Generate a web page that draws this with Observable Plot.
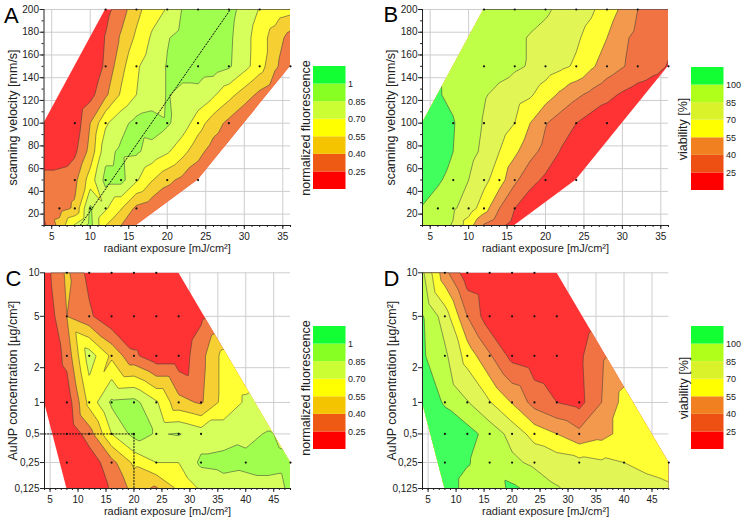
<!DOCTYPE html>
<html><head><meta charset="utf-8">
<script src="https://cdn.jsdelivr.net/npm/d3@7"></script>
<script src="https://cdn.jsdelivr.net/npm/@observablehq/plot@0.6"></script>
<style>
body{margin:0;background:#fff;}
#root{position:relative;width:743px;height:526px;overflow:hidden;font-family:"Liberation Sans",Arial,sans-serif;}
#root svg{position:absolute;overflow:visible;}
</style></head><body><div id="root"></div>
<script>
// ---------- data ----------
const xAB = [4,6,8,10,12,14,16,18,20,22,24,26,28,30,32,34,36];
const yAB = [10,25,50,75,100,125,150,175,200];
const fluorA = [
 [0.22,0.45,0.72,0.9,0.55,0.4,0.3,0.25,0.2,0.2,0.2,0.2,0.2,0.2,0.2,0.2,0.2],
 [0.3,0.34,0.42,0.88,0.72,0.56,0.36,0.3,0.25,0.2,0.2,0.2,0.2,0.2,0.2,0.2,0.2],
 [0.33,0.33,0.36,0.62,0.9,0.9,0.72,0.56,0.44,0.36,0.3,0.25,0.2,0.15,0.1,0.1,0.1],
 [0.1,0.13,0.22,0.45,0.8,0.88,0.87,0.8,0.72,0.6,0.45,0.33,0.26,0.2,0.15,0.1,0.1],
 [0.05,0.08,0.15,0.4,0.68,0.8,0.9,0.92,0.87,0.78,0.62,0.47,0.36,0.25,0.2,0.15,0.1],
 [0.02,0.05,0.1,0.2,0.37,0.57,0.7,0.76,0.86,0.8,0.8,0.72,0.6,0.48,0.36,0.28,0.2],
 [0.02,0.02,0.05,0.12,0.28,0.5,0.68,0.78,0.86,0.92,0.93,0.92,0.87,0.75,0.62,0.42,0.32],
 [0.02,0.03,0.05,0.12,0.26,0.42,0.58,0.72,0.84,0.9,0.93,0.93,0.88,0.76,0.62,0.48,0.34],
 [0.05,0.05,0.08,0.12,0.2,0.33,0.5,0.64,0.71,0.86,0.92,0.93,0.9,0.8,0.69,0.64,0.6]
];
const viabB = [
 [95,90,84,62,38,28,20,10,10,10,10,10,10,10,10,10,10],
 [99,93,87,78,62,40,25,15,10,10,10,10,10,10,10,10,10],
 [108,102,95,85,74,62,43,30,22,16,12,10,10,10,10,10,10],
 [112,108,100,90,82,70,58,45,35,24,18,14,10,10,10,10,10],
 [110,106,101,92,84,78,70,55,41,32,25,18,15,12,10,10,10],
 [106,101,97,92,86,82,77,72,62,52,43,36,29,23,18,15,12],
 [100,100,97,95,92,89,87,84,78,73,68,57,48,41,35,30,24],
 [97,97,97,95,93,90,88,84,81,77,72,65,55,43,36,32,28],
 [95,95,95,95,95,94,92,90,87,82,77,72,63,52,40,35,30]
];
const xCD = [4,8,12,16,20,24,28,32,36,40,44,48];
const yCD = [0.125,0.25,0.5,1,2.5,5,10];
const fluorC = [
 [0.02,0.05,0.12,0.27,0.45,0.38,0.58,0.72,0.78,0.8,0.82,0.86],
 [0.02,0.05,0.15,0.35,0.58,0.7,0.7,0.88,0.9,0.88,0.88,0.87],
 [0.05,0.1,0.33,0.7,0.9,0.84,0.86,0.78,0.78,0.82,0.86,0.82],
 [0.05,0.15,0.6,0.88,0.9,0.72,0.45,0.38,0.6,0.72,0.75,0.75],
 [0.08,0.3,0.78,0.52,0.28,0.15,0.15,0.35,0.6,0.6,0.6,0.6],
 [0.12,0.4,0.28,0.12,0.08,0.08,0.1,0.22,0.3,0.35,0.35,0.35],
 [0.18,0.43,0.2,0.12,0.1,0.1,0.15,0.25,0.3,0.35,0.4,0.4]
];
const viabD = [
 [115,108,95,92,103,95,86,80,78,76,74,72],
 [115,108,101,94,88,82,78,75,72,70,67,64],
 [115,112,106,94,80,64,55,44,50,60,60,58],
 [112,98,86,71,54,34,25,20,40,60,62,60],
 [102,88,64,42,20,15,12,22,38,45,50,50],
 [101,78,40,15,12,10,10,15,25,30,35,40],
 [88,45,15,10,8,8,10,20,25,30,35,40]
];
const hullAB = [[4,10],[4,100],[12,200],[36,200],[36,150],[24,50],[16,10]];
const hullCD = [[4,10],[4,1],[8,0.125],[48,0.125],[48,0.25],[28,10]];
const dotsAB = [[6,25],[8,25],[10,25],[12,25],[16,25],[8,50],[12,50],[14,50],[16,50],[20,50],[24,50],
 [8,100],[12,100],[16,100],[20,100],[24,100],[28,100],[12,150],[16,150],[20,150],[24,150],[28,150],[32,150],[36,150],
 [12,200],[16,200],[20,200],[24,200],[28,200],[32,200]];
const dotsCD = [[8,10],[12,10],[16,10],[20,10],[24,10],
 [8,5],[12,5],[16,5],[20,5],[24,5],[28,5],[8,2.5],[12,2.5],[16,2.5],[20,2.5],[24,2.5],[28,2.5],
 [8,1],[12,1],[16,1],[20,1],[24,1],[28,1],[32,1],[8,0.5],[12,0.5],[16,0.5],[20,0.5],[24,0.5],[28,0.5],[32,0.5],
 [8,0.25],[16,0.25],[20,0.25],[24,0.25],[32,0.25],[40,0.25],[48,0.25]];
const dottedA = [[[8.7,10],[28.2,200]]];
const dottedC = [[[4,0.5],[20,0.5]],[[20,0.5],[20,0.125]]];
const fluorThresholds = [0.25,0.40,0.55,0.70,0.85,1];
const viabThresholds = [25,40,55,70,85,100];
const fluorLabels = ["0.25","0.40","0.55","0.70","0.85","1"];
const viabLabels = ["25","40","55","70","85","100"];
const fluorFill = ["#ff3333","#f17b43","#f6d033","#ffff33","#d6ff5c","#a0ff4e","#41ff5c"];
const viabFill = ["#ff3333","#f17343","#f3994d","#ffff33","#e1f555","#c0ff48","#41ff5c"];
const fluorLegend = ["#ff0000","#ee5a14","#f4c400","#ffff00","#ccff33","#88ff22","#11ff33"];
const viabLegend = ["#ff0000","#ee5014","#f08020","#ffff00","#daf22a","#b0ff1a","#11ff33"];
const xTicksAB = [5,10,15,20,25,30,35];
const yTicksAB = [20,40,60,80,100,120,140,160,180,200];
const xTicksCD = [5,10,15,20,25,30,35,40,45];
const yTicksCD = [0.125,0.25,0.5,1,2,5,10];
const xTitle = "radiant exposure [mJ/cm²]";

// ---------- drawing ----------
const root = document.getElementById("root");
const FONT = "Liberation Sans, Arial, sans-serif";
const toPoints = (xs, ys, rows) => rows.flatMap((row, j) => row.map((v, i) => ({x: xs[i], y: ys[j], v})));

function panel(c) {
  const marks = [
    Plot.gridX(c.xTicks, {stroke: "#cdcdcd", strokeOpacity: 1}),
    Plot.gridY(c.yTicks, {stroke: "#cdcdcd", strokeOpacity: 1}),
    Plot.frame({fill: c.fills[0], stroke: "none"}),
    Plot.contour(toPoints(c.xs, c.ys, c.rows), {x: "x", y: "y", fill: "v", thresholds: c.thresholds,
      interpolate: "barycentric", pixelSize: 1, stroke: "#3a3a3a", strokeWidth: 0.6, strokeOpacity: 0.9}),
    Plot.ruleX([c.x.domain[0]], {stroke: "#222"}),
    Plot.ruleY([c.y.domain[0]], {stroke: "#222"}),
    Plot.axisX({ticks: c.xMinor, tickSize: 2, tickFormat: () => "", color: "#222", label: null}),
    Plot.axisX({ticks: c.xTicks, tickSize: 4, tickPadding: 3, fontSize: 10, color: "#222", label: null})
  ];
  if (c.yMinor) marks.push(Plot.axisY({ticks: c.yMinor, tickSize: 2, tickFormat: () => "", color: "#222", label: null}));
  marks.push(Plot.axisY({ticks: c.yTicks, tickSize: 4, tickPadding: 1, fontSize: 10, color: "#222", label: null, tickFormat: c.yFormat}));
  for (const seg of c.dotted) marks.push(Plot.line(seg, {x: d => d[0], y: d => d[1], stroke: "#111", strokeWidth: 1, strokeDasharray: "1.3,1.8"}));
  marks.push(Plot.dot(c.dots, {x: d => d[0], y: d => d[1], r: 1.1, fill: "#111", stroke: "none"}));
  marks.push(Plot.text([xTitle], {frameAnchor: "bottom", textAnchor: "middle", dy: 26, text: d => d, fontSize: 11, fill: "#222"}));
  marks.push(Plot.text([c.yLabel], {frameAnchor: "left", textAnchor: "middle", dx: c.ydx, rotate: -90, text: d => d, fontSize: 12.5, fill: "#222"}));
  marks.push(Plot.text([c.letter], {frameAnchor: "top-left", textAnchor: "start", lineAnchor: "top", dx: c.ldx, dy: c.ldy, text: d => d, fontSize: 22, fill: "#000"}));
  const chart = Plot.plot({
    width: 372, height: 263, marginLeft: c.ml, marginRight: c.mr, marginTop: c.mt, marginBottom: c.mb,
    style: {fontFamily: FONT, background: "transparent", overflow: "visible"},
    x: c.x, y: c.y,
    color: {type: "threshold", domain: c.thresholds, range: c.fills},
    marks
  });
  // clip the filled contour area to the convex hull of the measured region
  const sx = chart.scale("x"), sy = chart.scale("y");
  const ns = "http://www.w3.org/2000/svg";
  const defs = document.createElementNS(ns, "defs");
  const cp = document.createElementNS(ns, "clipPath");
  cp.setAttribute("id", "hull" + c.letter);
  const poly = document.createElementNS(ns, "polygon");
  poly.setAttribute("points", c.hull.map(([x, y]) => sx.apply(x) + "," + sy.apply(y)).join(" "));
  cp.appendChild(poly); defs.appendChild(cp); chart.insertBefore(defs, chart.firstChild);
  chart.querySelectorAll('[aria-label="frame"], [aria-label="contour"]').forEach(el => {
    const g = document.createElementNS(ns, "g");
    g.setAttribute("clip-path", `url(#hull${c.letter})`);
    el.parentNode.insertBefore(g, el); g.appendChild(el);
  });
  chart.style.left = c.left + "px"; chart.style.top = c.top + "px";
  root.appendChild(chart);
}

function legend(c) {
  const bands = c.colors.map((col, i) => ({i, col}));
  const chart = Plot.plot({
    width: 75, height: 135, marginLeft: 14, marginRight: 28.5, marginTop: 6, marginBottom: 6,
    style: {fontFamily: FONT, background: "transparent", overflow: "visible"},
    x: {domain: [0, 1], axis: null}, y: {domain: [0, 7], axis: null}, color: {type: "identity"},
    marks: [
      Plot.rect(bands, {x1: 0, x2: 1, y1: d => d.i, y2: d => d.i + 1, fill: d => d.col}),
      Plot.text(c.labels, {x: 1, y: (d, i) => i + 1, text: d => d, textAnchor: "start", dx: 2, fontSize: 9, fill: "#222"}),
      Plot.text([c.title], {frameAnchor: "left", textAnchor: "middle", dx: c.tdx, rotate: -90, text: d => d, fontSize: 12.5, fill: "#222"})
    ]
  });
  chart.style.left = c.left + "px"; chart.style.top = c.top + "px";
  root.appendChild(chart);
}

const commonAB = {xs: xAB, ys: yAB, x: {domain: [4, 36], label: null}, y: {domain: [10, 200], label: null},
  xTicks: xTicksAB, xMinor: d3.range(4, 37, 1), yTicks: yTicksAB, yMinor: d3.range(10, 201, 10),
  yFormat: d => String(d), hull: hullAB, dots: dotsAB, yLabel: "scanning velocity [mm/s]", mt: 9, mb: 38};
const commonCD = {xs: xCD, ys: yCD, x: {domain: [4, 48], label: null},
  y: {type: "pow", exponent: 0.14, domain: [0.125, 10], label: null},
  xTicks: xTicksCD, xMinor: d3.range(4, 49, 1), yTicks: yTicksCD, yMinor: null,
  yFormat: d => String(d).replace(".", ","), hull: hullCD, dots: dotsCD, yLabel: "AuNP concentration [µg/cm²]", mt: 9.3, mb: 38};

panel({...commonAB, letter: "A", left: 0, top: 0, ml: 43.5, mr: 82, rows: fluorA, thresholds: fluorThresholds, fills: fluorFill, dotted: dottedA, ydx: -31, ldx: -40, ldy: -2.5});
panel({...commonAB, letter: "B", left: 371, top: 0, ml: 51, mr: 75, rows: viabB, thresholds: viabThresholds, fills: viabFill, dotted: [], ydx: -32, ldx: -39, ldy: -3.5});
panel({...commonCD, letter: "C", left: 0, top: 263, ml: 44, mr: 82, rows: fluorC, thresholds: fluorThresholds, fills: fluorFill, dotted: dottedC, ydx: -32, ldx: -39, ldy: -2.3});
panel({...commonCD, letter: "D", left: 371, top: 263, ml: 51, mr: 74.7, rows: viabD, thresholds: viabThresholds, fills: viabFill, dotted: [], ydx: -31, ldx: -39, ldy: -2.3});

legend({left: 299, top: 60, colors: fluorLegend, labels: fluorLabels, title: "normalized fluorescence", tdx: -8});
legend({left: 676.7, top: 61, colors: viabLegend, labels: viabLabels, title: "viability [%]", tdx: -9});
legend({left: 299, top: 320.3, colors: fluorLegend, labels: fluorLabels, title: "normalized fluorescence", tdx: -8});
legend({left: 676.7, top: 320, colors: viabLegend, labels: viabLabels, title: "viability [%]", tdx: -8});
</script></body></html>
